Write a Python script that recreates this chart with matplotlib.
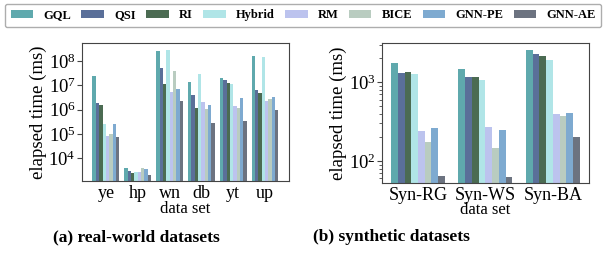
import matplotlib
matplotlib.use("Agg")
import matplotlib.pyplot as plt
from matplotlib.ticker import LogLocator
import numpy as np

methods = ["GQL", "QSI", "RI", "Hybrid", "RM", "BICE", "GNN-PE", "GNN-AE"]
colors = ["#5fa9ad", "#5a6f99", "#4b6b52", "#b0e5e7", "#bcc3ee", "#b9ccc0", "#7eaad0", "#6c7380"]

real_sets = ["ye", "hp", "wn", "db", "yt", "up"]
real_vals = {
    "GQL":    [2.4e7, 3900, 2.7e8, 1.4e7, 2.1e7, 1.6e8],
    "QSI":    [1.8e6, 2800, 5.0e7, 4.0e6, 1.6e7, 6.7e6],
    "RI":     [1.6e6, 2400, 1.1e7, 1.2e6, 1.3e7, 4.8e6],
    "Hybrid": [2.6e5, 2700, 2.9e8, 2.9e7, 1.1e7, 1.5e8],
    "RM":     [8.0e4, 2700, 5.2e6, 2.0e6, 1.4e6, 2.3e6],
    "BICE":   [1.0e5, 3900, 3.9e7, 1.1e6, 1.2e6, 2.7e6],
    "GNN-PE": [2.5e5, 3500, 7.0e6, 1.6e6, 2.9e6, 3.3e6],
    "GNN-AE": [7.4e4, 1950, 2.3e6, 2.8e5, 3.4e5, 9.8e5],
}

syn_sets = ["Syn-RG", "Syn-WS", "Syn-BA"]
syn_vals = {
    "GQL":    [1740, 1480, 2580],
    "QSI":    [1300, 1160, 2270],
    "RI":     [1330, 1170, 2180],
    "Hybrid": [1280, 1060, 1920],
    "RM":     [238, 270, 395],
    "BICE":   [174, 146, 373],
    "GNN-PE": [260, 248, 408],
    "GNN-AE": [64, 63, 200],
}

plt.rcParams["font.family"] = ["Liberation Serif", "DejaVu Serif"]
plt.rcParams["mathtext.fontset"] = "stix"

fig = plt.figure(figsize=(6.15, 2.54), dpi=100)
ax1 = fig.add_axes([0.1333, 0.287, 0.3366, 0.543])
ax2 = fig.add_axes([0.621, 0.281, 0.3366, 0.549])

def draw(ax, sets, vals, width, xlim, ylim):
    x = np.arange(len(sets))
    n = len(methods)
    for i, m in enumerate(methods):
        ax.bar(x + (i - (n - 1) / 2) * width, vals[m], width, color=colors[i],
               label=m)
    ax.set_yscale("log")
    ax.yaxis.set_major_locator(LogLocator(base=10, numticks=20))
    ax.set_xlim(*xlim)
    ax.set_ylim(*ylim)
    ax.set_xticks(x)
    ax.set_xticklabels(sets)
    ax.tick_params(axis="x", length=0, labelsize=13, pad=3)
    ax.tick_params(axis="y", labelsize=13.5, pad=1, color="#444444")
    ax.tick_params(axis="y", which="minor", color="#444444")
    ax.set_xlabel("data set", fontsize=12, labelpad=-1)
    ax.set_ylabel("elapsed time (ms)", fontsize=13.5, labelpad=1)
    for s in ax.spines.values():
        s.set_color("#444444")

draw(ax1, real_sets, real_vals, 0.105, (-0.75, 5.75), (1120, 5.5e8))
ax1.tick_params(axis="y", which="minor", length=0)
draw(ax2, syn_sets, syn_vals, 0.1, (-0.535, 2.535), (53, 3130))

fig.legend(*ax1.get_legend_handles_labels(), loc="upper left",
           bbox_to_anchor=(0.004, 0.995), ncol=8, frameon=True,
           prop={"weight": "bold", "size": 9}, handlelength=1.8,
           handleheight=0.65, columnspacing=0.85, handletextpad=0.8,
           borderpad=0.45, borderaxespad=0.2, fancybox=True,
           edgecolor="#999999")

fig.text(0.222, 0.067, "(a) real-world datasets", ha="center", va="center",
         fontsize=12.5, fontweight="bold")
fig.text(0.637, 0.067, "(b) synthetic datasets", ha="center", va="center",
         fontsize=12.5, fontweight="bold")

fig.savefig("out.png", dpi=100)
